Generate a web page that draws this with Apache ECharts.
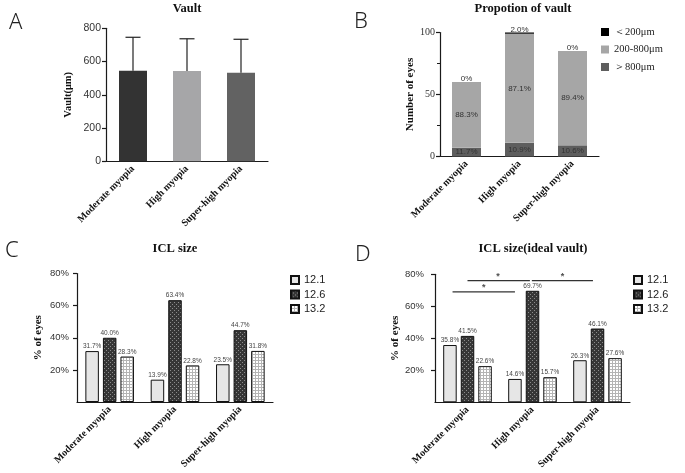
<!DOCTYPE html>
<html>
<head>
<meta charset="utf-8">
<script src="https://cdn.jsdelivr.net/npm/echarts@6/dist/echarts.min.js"></script>
<style>
  body { margin: 0; background: #fff; }
  #main { width: 685px; height: 473px; }
</style>
</head>
<body>
<div id="main"></div>
<script>
// data
const categories = ['Moderate myopia', 'High myopia', 'Super-high myopia'];

// A: vault mean + SD (μm)
const vaultMean = [545, 543, 533];
const vaultSD = [201, 194, 201];
const vaultColors = ['#333333', '#a6a6a8', '#626262'];

// B: number of eyes per vault range
const rangeNames = ['＜200μm', '200-800μm', '＞800μm'];
const eyesUnder200 = [0, 2, 0];
const eyes200to800 = [53, 88, 76];
const eyesOver800 = [7, 11, 9];

// C / D: ICL size share (%)
const iclSizes = ['12.1', '12.6', '13.2'];
const icl121 = [31.7, 13.9, 23.5];
const icl126 = [40.0, 63.4, 44.7];
const icl132 = [28.3, 22.8, 31.8];
const ideal121 = [35.8, 14.6, 26.3];
const ideal126 = [41.5, 69.7, 46.1];
const ideal132 = [22.6, 15.7, 27.6];

// D: significance brackets [from, to, level] in category units
const sigLines = [[0, 0.96, 76], [0.99, 1.93, 76], [-0.23, 0.73, 69]];
const sigStars = [[0.47, 76], [1.46, 76], [0.25, 69]];

const SERIF = 'Liberation Serif';
const SANS = 'Liberation Sans';

// fill patterns
function patternDots() {
    const c = document.createElement('canvas');
    c.width = 4; c.height = 4;
    const g = c.getContext('2d');
    g.fillStyle = '#363636';
    g.fillRect(0, 0, 4, 4);
    g.fillStyle = '#8c8c8c';
    g.fillRect(0, 0, 1, 1);
    g.fillRect(2, 2, 1, 1);
    return { image: c, repeat: 'repeat' };
}
function patternGrid() {
    const c = document.createElement('canvas');
    c.width = 3; c.height = 3;
    const g = c.getContext('2d');
    g.fillStyle = '#ffffff';
    g.fillRect(0, 0, 3, 3);
    g.fillStyle = '#b4b4b4';
    g.fillRect(0, 0, 3, 1);
    g.fillRect(0, 0, 1, 3);
    return { image: c, repeat: 'repeat' };
}
const iclFills = ['#e6e6e6', patternDots(), patternGrid()];

const axisLine = { onZero: false, lineStyle: { color: '#1a1a1a', width: 1.2 } };
const axisTick = { length: 4, lineStyle: { color: '#1a1a1a', width: 1.2 } };

function catAxis(gridIndex) {
    return {
        type: 'category',
        gridIndex: gridIndex,
        data: categories,
        axisLine: axisLine,
        axisTick: Object.assign({ alignWithLabel: true }, axisTick),
        axisLabel: {
            interval: 0, rotate: 45, margin: 6,
            fontFamily: SERIF, fontWeight: 'bold', fontSize: 10, color: '#111'
        }
    };
}

function pct(n, total) {
    return n === 0 ? '0%' : (n / total * 100).toFixed(1) + '%';
}
const totals = categories.map((c, i) => eyesUnder200[i] + eyes200to800[i] + eyesOver800[i]);

function bSeries(name, values, color, pos) {
    return {
        name: name,
        type: 'bar',
        stack: 'B',
        xAxisIndex: 1,
        yAxisIndex: 1,
        barWidth: 29,
        data: values,
        itemStyle: { color: color },
        label: {
            show: true,
            position: pos,
            distance: -1,
            fontFamily: SANS,
            fontSize: 8,
            color: '#333',
            formatter: p => pct(values[p.dataIndex], totals[p.dataIndex])
        }
    };
}

function iclSeries(name, values, fill, axisIdx) {
    return {
        name: name,
        type: 'bar',
        xAxisIndex: axisIdx,
        yAxisIndex: axisIdx,
        barWidth: 13.5,
        barGap: '30%',
        data: values,
        itemStyle: { color: fill, borderColor: '#111', borderWidth: 1 },
        label: {
            show: true,
            position: 'top',
            distance: 1,
            fontFamily: SANS,
            fontSize: 6.5,
            color: '#444',
            formatter: p => p.value.toFixed(1) + '%'
        }
    };
}

function pctAxis(gridIndex, margin, gap) {
    return {
        type: 'value',
        gridIndex: gridIndex,
        min: 0, max: 80, interval: 20,
        name: '% of eyes',
        nameLocation: 'middle',
        nameGap: gap,
        nameTextStyle: { fontFamily: SERIF, fontWeight: 'bold', fontSize: 11, color: '#111' },
        axisLine: Object.assign({ show: true }, axisLine),
        axisTick: Object.assign({ show: true }, axisTick),
        splitLine: { show: false },
        axisLabel: {
            margin: margin, fontFamily: SANS, fontSize: 9.5, color: '#333',
            showMinLabel: false,
            formatter: '{value}%'
        }
    };
}

const titleFont = { fontFamily: SERIF, fontWeight: 'bold', fontSize: 12.5, color: '#111' };
const letterFont = { fontFamily: 'Noto Sans', fontWeight: 300, fontSize: 22, color: '#222' };

const chart = echarts.init(document.getElementById('main'));

const option = {
    animation: false,
    title: [
        { text: 'Vault', left: 187, top: 2.5, textAlign: 'center', padding: 0, textStyle: titleFont },
        { text: 'Propotion of vault', left: 523, top: 2.5, textAlign: 'center', padding: 0, textStyle: titleFont },
        { text: 'ICL size', left: 175, top: 242.5, textAlign: 'center', padding: 0, textStyle: titleFont },
        { text: 'ICL size(ideal vault)', left: 533, top: 242.5, textAlign: 'center', padding: 0, textStyle: titleFont },
        { text: 'A', left: 9, top: 12, padding: 0, textStyle: letterFont },
        { text: 'B', left: 354, top: 11, padding: 0, textStyle: letterFont },
        { text: 'C', left: 5, top: 240, padding: 0, textStyle: letterFont },
        { text: 'D', left: 355, top: 244, padding: 0, textStyle: letterFont }
    ],
    legend: [
        {
            data: rangeNames, orient: 'vertical', left: 601, top: 26.5, padding: 0,
            itemWidth: 8, itemHeight: 8, itemGap: 6.5, icon: 'rect', selectedMode: false,
            textStyle: { fontFamily: SERIF, fontSize: 10.5, color: '#222' }
        },
        {
            data: iclSizes, orient: 'vertical', left: 290, top: 274.5, padding: 0,
            itemWidth: 8, itemHeight: 8, itemGap: 3.5, icon: 'rect', selectedMode: false,
            textStyle: { fontFamily: SANS, fontSize: 11, color: '#222' }
        },
        {
            data: iclSizes, orient: 'vertical', left: 633, top: 274.5, padding: 0,
            itemWidth: 8, itemHeight: 8, itemGap: 3.5, icon: 'rect', selectedMode: false,
            textStyle: { fontFamily: SANS, fontSize: 11, color: '#222' }
        }
    ],
    grid: [
        { left: 106, top: 28.3, width: 162, height: 133, containLabel: false, outerBoundsMode: 'none' },
        { left: 440, top: 32.5, width: 159, height: 124, containLabel: false, outerBoundsMode: 'none' },
        { left: 77, top: 273.5, width: 196, height: 128.5, containLabel: false, outerBoundsMode: 'none' },
        { left: 435, top: 274.3, width: 195, height: 128, containLabel: false, outerBoundsMode: 'none' }
    ],
    xAxis: [
        catAxis(0),
        catAxis(1),
        catAxis(2),
        catAxis(3),
        { type: 'value', gridIndex: 3, min: -0.5, max: 2.5, show: false }
    ],
    yAxis: [
        {
            type: 'value', gridIndex: 0, min: 0, max: 800, interval: 200,
            name: 'Vault(μm)', nameLocation: 'middle', nameGap: 32,
            nameTextStyle: { fontFamily: SERIF, fontWeight: 'bold', fontSize: 10.5, color: '#111' },
            axisLine: Object.assign({ show: true }, axisLine),
            axisTick: Object.assign({ show: true }, axisTick),
            splitLine: { show: false },
            axisLabel: { margin: 5, fontFamily: SANS, fontSize: 10.5, color: '#333' }
        },
        {
            type: 'value', gridIndex: 1, min: 0, max: 100, interval: 50,
            name: 'Number of eyes', nameLocation: 'middle', nameGap: 24,
            nameTextStyle: { fontFamily: SERIF, fontWeight: 'bold', fontSize: 11, color: '#111' },
            axisLine: Object.assign({ show: true }, axisLine),
            axisTick: Object.assign({ show: true }, axisTick),
            minorTick: { show: true, splitNumber: 2, length: 3, lineStyle: { color: '#1a1a1a', width: 1 } },
            splitLine: { show: false },
            axisLabel: { margin: 5, fontFamily: SERIF, fontSize: 10, color: '#333' }
        },
        pctAxis(2, 8, 33.5),
        pctAxis(3, 11, 34.5)
    ],
    series: [
        // A
        {
            type: 'bar',
            xAxisIndex: 0, yAxisIndex: 0,
            barWidth: 28,
            data: vaultMean.map((v, i) => ({ value: v, itemStyle: { color: vaultColors[i] } }))
        },
        {
            type: 'custom',
            xAxisIndex: 0, yAxisIndex: 0,
            z: 3,
            data: vaultMean.map((m, i) => [i, m, vaultSD[i]]),
            encode: { x: 0, y: 1 },
            renderItem: function(params, api) {
                const x = api.value(0);
                const base = api.coord([x, api.value(1)]);
                const top = api.coord([x, api.value(1) + api.value(2)]);
                const st = { stroke: '#222', lineWidth: 1.2 };
                return {
                    type: 'group',
                    children: [
                        { type: 'line', shape: { x1: base[0], y1: base[1], x2: top[0], y2: top[1] }, style: st },
                        { type: 'line', shape: { x1: top[0] - 7.5, y1: top[1], x2: top[0] + 7.5, y2: top[1] }, style: st }
                    ]
                };
            }
        },
        // B (stacked bottom to top)
        bSeries(rangeNames[2], eyesOver800, '#5e5e5e', 'inside'),
        bSeries(rangeNames[1], eyes200to800, '#a6a6a6', 'inside'),
        bSeries(rangeNames[0], eyesUnder200, '#000000', 'top'),
        // C
        iclSeries(iclSizes[0], icl121, iclFills[0], 2),
        iclSeries(iclSizes[1], icl126, iclFills[1], 2),
        iclSeries(iclSizes[2], icl132, iclFills[2], 2),
        // D
        iclSeries(iclSizes[0], ideal121, iclFills[0], 3),
        iclSeries(iclSizes[1], ideal126, iclFills[1], 3),
        iclSeries(iclSizes[2], ideal132, iclFills[2], 3)
    ].concat(sigLines.map(s => ({
        type: 'line',
        xAxisIndex: 4, yAxisIndex: 3,
        symbol: 'none',
        silent: true,
        lineStyle: { color: '#333', width: 1.2 },
        data: [[s[0], s[2]], [s[1], s[2]]]
    }))).concat([{
        type: 'scatter',
        xAxisIndex: 4, yAxisIndex: 3,
        symbolSize: 0,
        silent: true,
        data: sigStars,
        label: {
            show: true, position: 'top', distance: 0,
            formatter: '*', fontFamily: SANS, fontWeight: 'bold', fontSize: 9, color: '#222'
        }
    }])
};

chart.setOption(option);
</script>
</body>
</html>
